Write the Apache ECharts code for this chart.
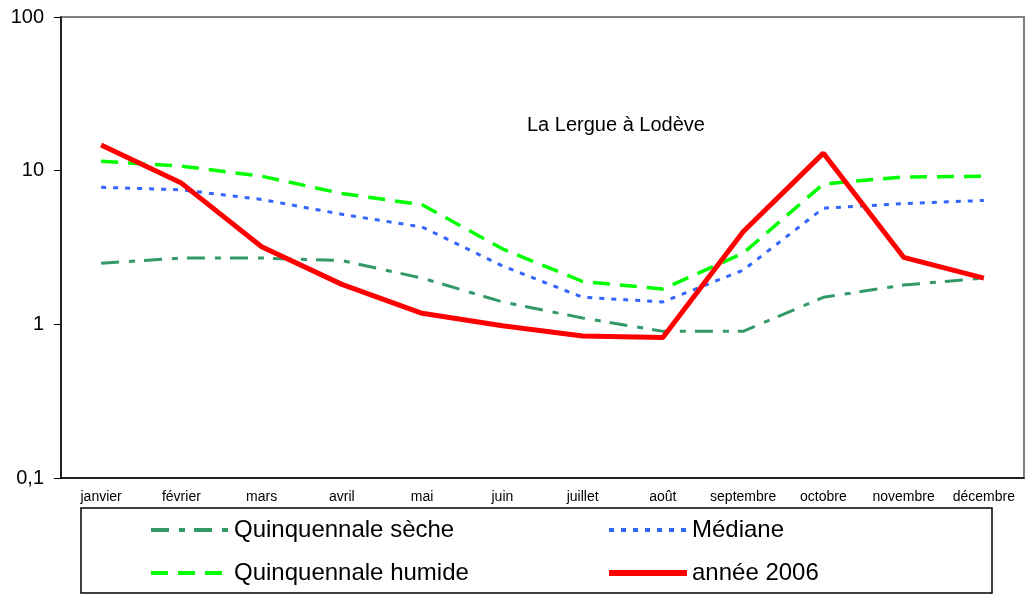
<!DOCTYPE html>
<html>
<head>
<meta charset="utf-8">
<script src="https://cdn.jsdelivr.net/npm/echarts@6/dist/echarts.min.js"></script>
<style>
  html, body { margin: 0; padding: 0; background: #fff; }
  #chart { width: 1026px; height: 594px; }
</style>
</head>
<body>
<div id="chart"></div>
<script>
// Débits mensuels de la Lergue à Lodève (m3/s, échelle logarithmique)
const months = ['janvier', 'février', 'mars', 'avril', 'mai', 'juin', 'juillet', 'août', 'septembre', 'octobre', 'novembre', 'décembre'];
const quinqSeche = [2.5, 2.7, 2.7, 2.6, 2.0, 1.4, 1.1, 0.9, 0.9, 1.5, 1.8, 2.0];
const mediane = [7.8, 7.5, 6.5, 5.2, 4.3, 2.4, 1.5, 1.4, 2.25, 5.7, 6.1, 6.4];
const quinqHumide = [11.5, 10.7, 9.2, 7.1, 6.0, 3.1, 1.9, 1.7, 2.9, 8.2, 9.1, 9.2];
const annee2006 = [14.7, 8.3, 3.2, 1.82, 1.18, 0.98, 0.84, 0.82, 4.0, 13.0, 2.73, 2.0];
const chartTitle = 'La Lergue à Lodève';

const FONT = '"Liberation Sans", Arial, sans-serif';
const chart = echarts.init(document.getElementById('chart'), null, { renderer: 'canvas' });

function fmtLog(v) {
  return String(+Number(v).toPrecision(3)).replace('.', ',');
}

const legendText = { fontFamily: FONT, fontSize: 24, color: '#000' };
// legend entries show only the line sample, no marker
const legendCommon = {
  orient: 'vertical',
  top: 518,
  padding: 0,
  itemWidth: 78, itemHeight: 22, itemGap: 19,
  itemStyle: { opacity: 0, borderWidth: 0 },
  textStyle: legendText
};

chart.setOption({
  animation: false,
  backgroundColor: '#fff',
  title: {
    text: chartTitle,
    left: 522,
    top: 110,
    textStyle: { fontFamily: FONT, fontSize: 20, fontWeight: 'normal', color: '#000' }
  },
  grid: {
    left: 61, right: 2, top: 17, bottom: 116,
    show: true, borderColor: '#808080', borderWidth: 2, backgroundColor: '#fff'
  },
  legend: [
    Object.assign({
      data: [
        { name: 'Quinquennale sèche', lineStyle: { width: 4 } },
        { name: 'Quinquennale humide', lineStyle: { width: 4 } }
      ],
      left: 149
    }, legendCommon),
    Object.assign({
      data: [
        { name: 'Médiane', lineStyle: { width: 4 } },
        { name: 'année 2006', lineStyle: { width: 6 } }
      ],
      left: 606
    }, legendCommon)
  ],
  graphic: [{
    type: 'rect',
    shape: { x: 81, y: 508, width: 911, height: 85 },
    style: { fill: 'none', stroke: '#000', lineWidth: 1.5 },
    z: -1
  }],
  xAxis: {
    type: 'category',
    data: months,
    boundaryGap: true,
    axisLine: { lineStyle: { color: '#000', width: 1.5 } },
    axisTick: { inside: true, length: 4, lineStyle: { color: '#000' } },
    axisLabel: { fontFamily: FONT, fontSize: 14, color: '#000', margin: 12, interval: 0 },
    splitLine: { show: false }
  },
  yAxis: {
    type: 'log',
    logBase: 10,
    min: 0.1,
    max: 100,
    axisLine: { show: true, lineStyle: { color: '#000', width: 1.5 } },
    axisTick: { show: true, inside: false, length: 7, lineStyle: { color: '#000' } },
    minorTick: { show: false },
    splitLine: { show: false },
    axisLabel: { fontFamily: FONT, fontSize: 20, color: '#000', margin: 17, formatter: fmtLog }
  },
  series: [
    {
      name: 'Quinquennale sèche', type: 'line', data: quinqSeche,
      symbol: 'none', z: 2,
      itemStyle: { color: '#339966' },
      lineStyle: { color: '#339966', width: 3, type: [18, 10, 6, 9] }
    },
    {
      name: 'Médiane', type: 'line', data: mediane,
      symbol: 'none', z: 3,
      itemStyle: { color: '#3366FF' },
      lineStyle: { color: '#3366FF', width: 3, type: [5, 7] }
    },
    {
      name: 'Quinquennale humide', type: 'line', data: quinqHumide,
      symbol: 'none', z: 4,
      itemStyle: { color: '#00FF00' },
      lineStyle: { color: '#00FF00', width: 3.5, type: [17, 10] }
    },
    {
      name: 'année 2006', type: 'line', data: annee2006,
      symbol: 'none', z: 5,
      itemStyle: { color: '#FF0000' },
      lineStyle: { color: '#FF0000', width: 5, type: 'solid' }
    }
  ]
});
</script>
</body>
</html>
